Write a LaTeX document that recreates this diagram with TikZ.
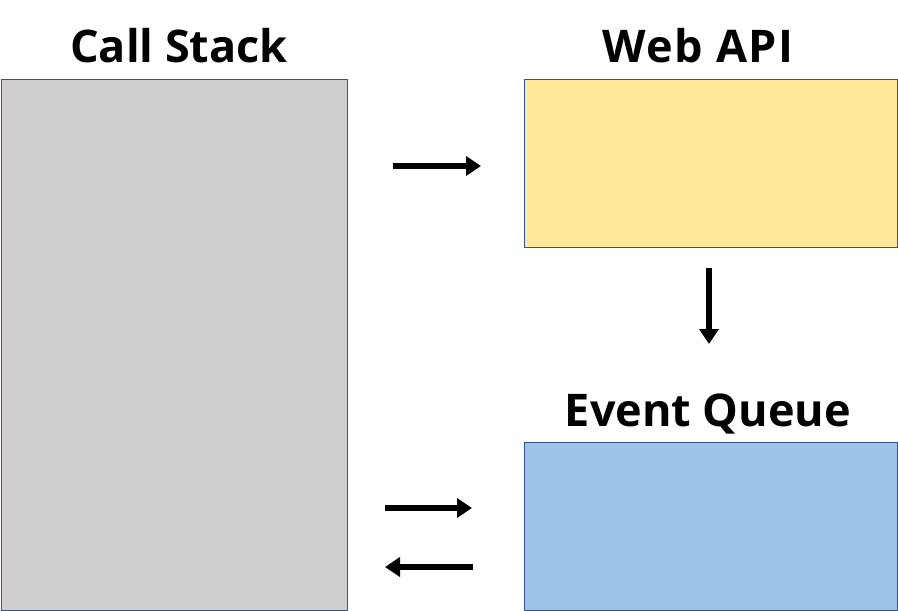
\documentclass[tikz,border=0pt]{standalone}
\usepackage{fontspec}
\setmainfont{Open Sans}
\usetikzlibrary{arrows.meta}
\definecolor{stackgray}{HTML}{D0CECE}
\definecolor{apiyellow}{HTML}{FFE699}
\definecolor{queueblue}{HTML}{9DC3E6}
\definecolor{edgeblue}{HTML}{2F5597}
\tikzset{
  box/.style={draw=edgeblue, line width=1.2pt, rectangle, inner sep=0pt, anchor=north west},
  title/.style={font=\fontsize{45}{50}\selectfont\bfseries, anchor=base, inner sep=0pt},
  flow/.style={line width=5.5pt, -{Triangle[length=15pt,width=19pt]}},
}
\begin{document}
\begin{tikzpicture}[x=1pt,y=-1pt]
\useasboundingbox (0,0) rectangle (898,611);
\node[box, fill=stackgray, minimum width=346.5pt, minimum height=531.5pt] (stack) at (0.6,78.5) {};
\node[box, fill=apiyellow, minimum width=373.5pt, minimum height=168.5pt] (api) at (523.5,78.5) {};
\node[box, fill=queueblue, minimum width=373.5pt, minimum height=168.5pt] (queue) at (523.5,441.5) {};
\node[title] (tstack) at (179,62) {Call Stack};
\node[title] (tapi) at (698,62) {\addfontfeature{LetterSpace=3}Web API};
\node[title] (tqueue) at (708,426) {Event Queue};
\coordinate (a1s) at (393,166); \coordinate (a1e) at (481,166);
\coordinate (a2s) at (709,268); \coordinate (a2e) at (709,344);
\coordinate (a3s) at (385,508); \coordinate (a3e) at (472,508);
\coordinate (a4s) at (473,567); \coordinate (a4e) at (385,567);
\draw[flow] (a1s) -- (a1e);
\draw[flow] (a2s) -- (a2e);
\draw[flow] (a3s) -- (a3e);
\draw[flow] (a4s) -- (a4e);
\end{tikzpicture}
\end{document}
